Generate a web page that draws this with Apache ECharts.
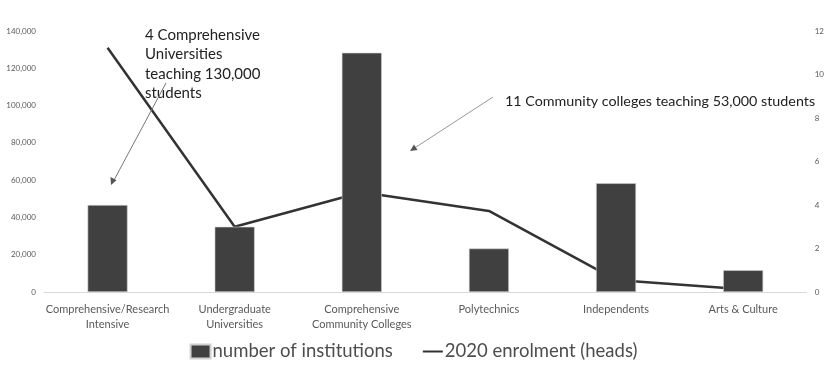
<!DOCTYPE html>
<html><head><meta charset="utf-8">
<script src="https://cdn.jsdelivr.net/npm/echarts@6/dist/echarts.min.js"></script>
<style>html,body{margin:0;padding:0;background:#fff}#c{width:827px;height:367px}</style>
</head><body><div id="c"></div>
<script>
const categories = ['Comprehensive/Research\nIntensive','Undergraduate\nUniversities','Comprehensive\nCommunity Colleges','Polytechnics','Independents','Arts & Culture'];
const institutions = [4, 3, 11, 2, 5, 1];
const enrolment = [131000, 35000, 53500, 43500, 6500, 1500];
const leftTicks = {min:0, max:140000, interval:20000};
const rightTicks = {min:0, max:12, interval:2};
const FONT = 'Lato, "Open Sans", sans-serif';
const chart = echarts.init(document.getElementById('c'));
chart.setOption({
  animation:false,
  textStyle:{fontFamily:FONT},
  grid:{left:44, right:20, top:31, bottom:75},
  legend:{
    bottom:1, left:'center', itemGap:30, itemWidth:20, itemHeight:14,
    textStyle:{fontSize:18.5, color:'#4d4d4d', fontFamily:FONT, padding:[0,0,0,-3]},
    data:[{name:'number of institutions', icon:'rect'},
          {name:'2020 enrolment (heads)', icon:'path://M0,6.5 L20,6.5 L20,8.5 L0,8.5 Z'}]
  },
  xAxis:{type:'category', data:categories,
    axisLine:{lineStyle:{color:'#d9d9d9'}}, axisTick:{show:false},
    axisLabel:{color:'#595959', fontSize:11, lineHeight:15, margin:10, interval:0, fontFamily:FONT}},
  yAxis:[
    {type:'value', min:leftTicks.min, max:leftTicks.max, interval:leftTicks.interval,
     splitLine:{show:false}, axisLine:{show:false}, axisTick:{show:false},
     axisLabel:{color:'#595959', fontSize:8, margin:8, formatter:v=>v.toLocaleString('en-US')}},
    {type:'value', min:rightTicks.min, max:rightTicks.max, interval:rightTicks.interval, position:'right',
     splitLine:{show:false}, axisLine:{show:false}, axisTick:{show:false},
     axisLabel:{color:'#595959', fontSize:8, margin:8}}
  ],
  series:[
    {name:'number of institutions', type:'bar', yAxisIndex:1, data:institutions, barWidth:40, z:3,
     itemStyle:{color:'#404040', borderColor:'#d0d0d0', borderWidth:0.6}},
    {name:'2020 enrolment (heads)', type:'line', yAxisIndex:0, data:enrolment, z:1,
     symbol:'none', lineStyle:{color:'#333333', width:2.5}, itemStyle:{color:'#333333'}}
  ],
  graphic:[
    {type:'text', left:145, top:25, z:10, style:{text:'4 Comprehensive\nUniversities\nteaching 130,000\nstudents', fill:'#222', font:'15px '+FONT, lineHeight:19.5}},
    {type:'line', z:10, shape:{x1:166, y1:83, x2:113, y2:182}, style:{stroke:'#777', lineWidth:1}},
    {type:'polygon', z:10, shape:{points:[[111,185],[110.5,177],[116.5,180.2]]}, style:{fill:'#555'}},
    {type:'text', left:505, top:94, z:10, style:{text:'11 Community colleges teaching 53,000 students', fill:'#222', font:'14.3px '+FONT}},
    {type:'line', z:10, shape:{x1:493, y1:97, x2:413, y2:149}, style:{stroke:'#999', lineWidth:1}},
    {type:'polygon', z:10, shape:{points:[[410,151],[414,144.5],[417.5,150]]}, style:{fill:'#555'}}
  ]
});
</script></body></html>
